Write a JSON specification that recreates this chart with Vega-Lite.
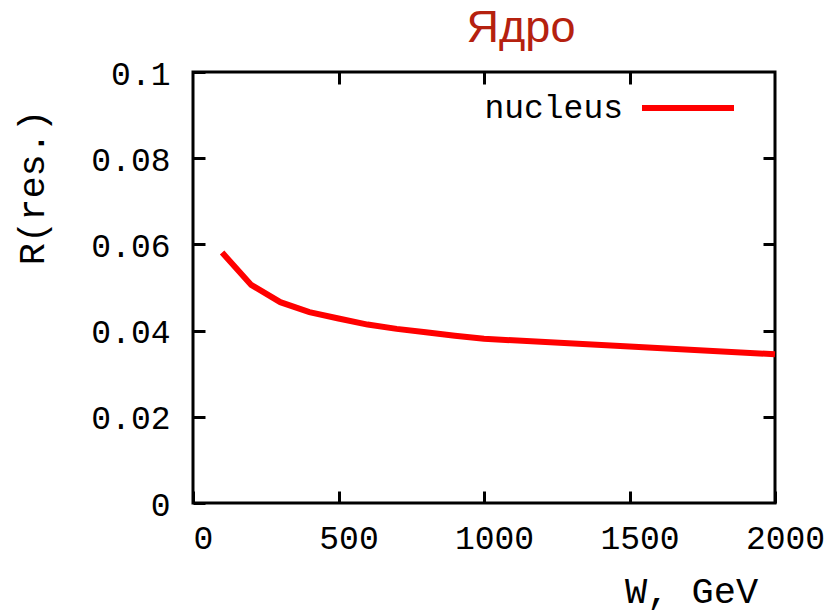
{
  "$schema": "https://vega.github.io/schema/vega-lite/v6.json",
  "width": 582,
  "height": 431,
  "autosize": {"type": "none"},
  "padding": {"left": 193, "top": 72, "right": 56, "bottom": 107},
  "background": "white",
  "config": {
    "view": {"stroke": "black", "strokeWidth": 3},
    "axis": {
      "domain": false,
      "grid": false,
      "tickColor": "black",
      "tickWidth": 3,
      "tickSize": -12,
      "labelFont": "Liberation Mono",
      "labelFontSize": 33,
      "labelColor": "black",
      "titleFont": "Liberation Mono",
      "titleFontSize": 37,
      "titleFontWeight": "normal",
      "titleColor": "black"
    }
  },
  "title": {
    "text": "Ядро",
    "font": "Liberation Sans",
    "fontSize": 45,
    "fontWeight": "normal",
    "color": "#b5210f",
    "anchor": "middle",
    "frame": "group",
    "dx": 37,
    "offset": 7
  },
  "data": {
    "values": [
      {"W": 100, "R": 0.0581, "series": "nucleus"},
      {"W": 200, "R": 0.0506, "series": "nucleus"},
      {"W": 300, "R": 0.0466, "series": "nucleus"},
      {"W": 400, "R": 0.0443, "series": "nucleus"},
      {"W": 500, "R": 0.0428, "series": "nucleus"},
      {"W": 600, "R": 0.0414, "series": "nucleus"},
      {"W": 700, "R": 0.0404, "series": "nucleus"},
      {"W": 800, "R": 0.0396, "series": "nucleus"},
      {"W": 900, "R": 0.0388, "series": "nucleus"},
      {"W": 1000, "R": 0.0381, "series": "nucleus"},
      {"W": 1500, "R": 0.0363, "series": "nucleus"},
      {"W": 2000, "R": 0.0345, "series": "nucleus"}
    ]
  },
  "layer": [
    {
      "mark": {"type": "line", "strokeWidth": 6, "strokeCap": "butt", "strokeJoin": "miter"},
      "encoding": {
        "x": {
          "field": "W",
          "type": "quantitative",
          "scale": {"domain": [0, 2000], "nice": false, "zero": false},
          "axis": {
            "orient": "bottom",
            "values": [0, 500, 1000, 1500, 2000],
            "format": "d",
            "labelPadding": 31,
            "labelOffset": 10,
            "labelBaseline": "top",
            "labelFlush": false,
            "labelOverlap": false,
            "title": "W, GeV",
            "titleX": 498,
            "titleY": 99,
            "titleAlign": "center",
            "titleBaseline": "alphabetic"
          }
        },
        "y": {
          "field": "R",
          "type": "quantitative",
          "scale": {"domain": [0, 0.1], "nice": false, "zero": true},
          "axis": {
            "orient": "left",
            "values": [0, 0.02, 0.04, 0.06, 0.08, 0.1],
            "labelExpr": "format(datum.value, '.2~f')",
            "labelPadding": 35,
            "labelOffset": 2,
            "labelFlush": false,
            "labelOverlap": false,
            "labelBaseline": "middle",
            "title": "R(res.)",
            "titleAngle": 270,
            "titleX": -150,
            "titleY": 115,
            "titleAlign": "center",
            "titleBaseline": "alphabetic"
          }
        },
        "color": {
          "field": "series",
          "type": "nominal",
          "scale": {"domain": ["nucleus"], "range": ["#ff0000"]},
          "legend": {
            "orient": "none",
            "legendX": 446,
            "legendY": -13,
            "title": null,
            "padding": 0,
            "symbolType": "stroke",
            "symbolSize": 8464,
            "symbolStrokeWidth": 6,
            "labelAlign": "right",
            "labelOffset": -114,
            "labelFont": "Liberation Mono",
            "labelFontSize": 33,
            "labelColor": "black",
            "labelLimit": 400
          }
        }
      }
    },
    {
      "mark": {"type": "line", "opacity": 0},
      "encoding": {
        "x": {
          "field": "W",
          "type": "quantitative",
          "axis": {"orient": "top", "values": [500, 1000, 1500], "labels": false, "title": null}
        },
        "y": {
          "field": "R",
          "type": "quantitative",
          "axis": {"orient": "right", "values": [0.02, 0.04, 0.06, 0.08], "labels": false, "title": null}
        }
      }
    }
  ],
  "resolve": {"axis": {"x": "independent", "y": "independent"}}
}
